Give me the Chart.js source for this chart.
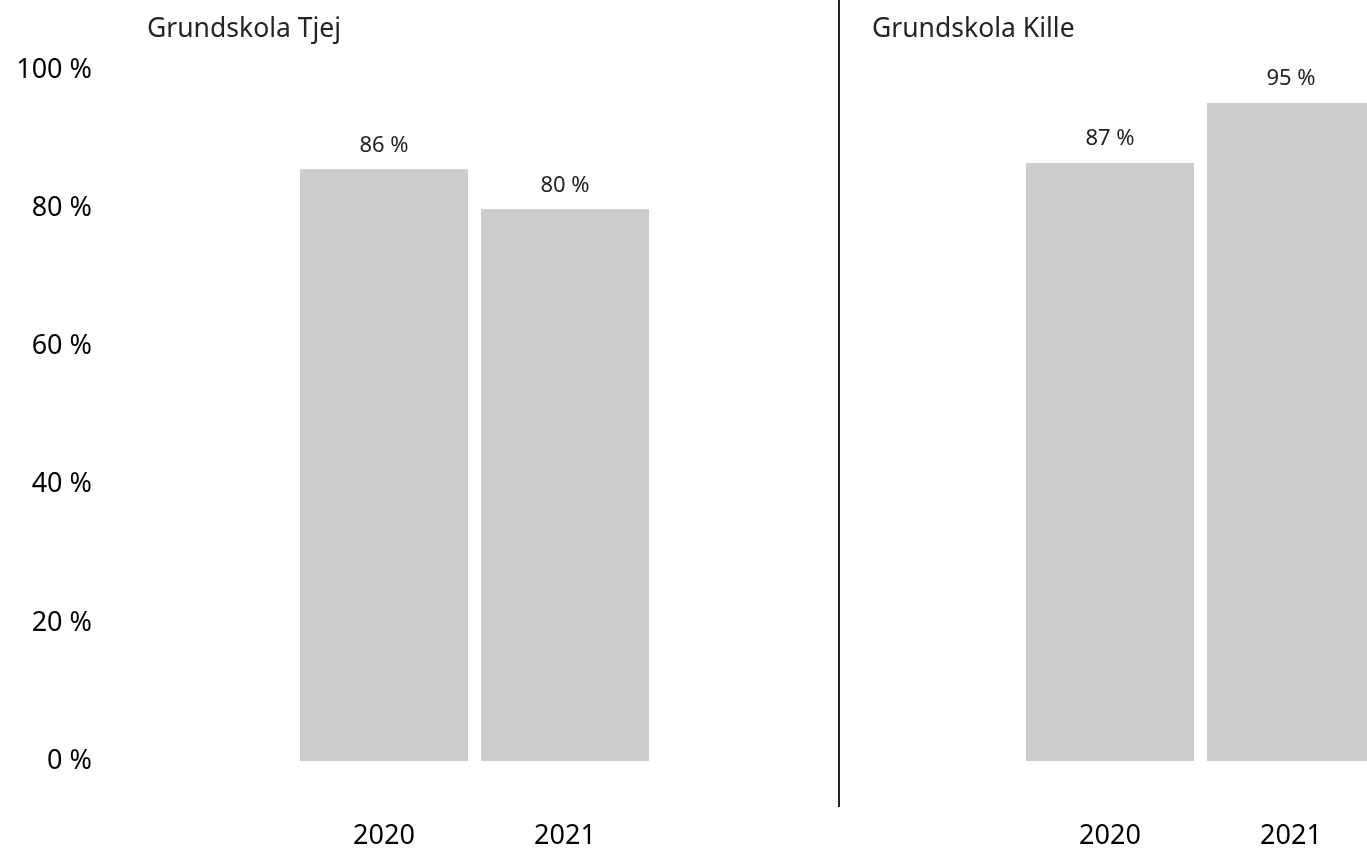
<!DOCTYPE html>
<html lang="sv">
<head>
<meta charset="UTF-8">
<title>Grundskola Tjej / Kille</title>
<script src="https://cdn.jsdelivr.net/npm/chart.js"></script>
<style>
    html, body {
        margin: 0;
        padding: 0;
        background: #fff;
        overflow: hidden;
    }
    .page {
        position: relative;
        width: 1367px;
        height: 850px;
        overflow: hidden;
    }
    .panel {
        position: absolute;
        top: 0;
    }
    .title {
        position: absolute;
        top: 14px;
        font-family: "Noto Sans", sans-serif;
        font-size: 26.5px;
        line-height: 26px;
        color: #252423;
        white-space: nowrap;
    }
    .divider {
        position: absolute;
        left: 838px;
        top: 0;
        width: 2px;
        height: 807px;
        background: #252423;
    }
</style>
</head>
<body>
<div class="page">
    <div class="panel" style="left:0"><canvas id="chartTjej" width="838" height="850"></canvas></div>
    <div class="panel" style="left:838px"><canvas id="chartKille" width="544" height="850"></canvas></div>
    <div class="divider"></div>
    <div class="title" style="left:147px">Grundskola Tjej</div>
    <div class="title" style="left:872px">Grundskola Kille</div>
</div>

<script>
    // data
    const years = ['2020', '2021'];
    const tjejValues = [85.7, 79.9];
    const killeValues = [86.6, 95.3];

    const barColor = '#cccccc';
    const tickFont = { family: 'Noto Sans', size: 27 };

    // labels above bars
    const barLabels = {
        id: 'barLabels',
        afterDatasetsDraw(chart) {
            const ctx = chart.ctx;
            ctx.save();
            ctx.font = '22px "Noto Sans"';
            ctx.fillStyle = '#222';
            ctx.textAlign = 'center';
            ctx.textBaseline = 'middle';
            chart.data.datasets.forEach((ds, i) => {
                chart.getDatasetMeta(i).data.forEach((bar, j) => {
                    ctx.fillText(Math.round(ds.data[j]) + ' %', bar.x, bar.y - 24);
                });
            });
            ctx.restore();
        }
    };

    function makeChart(id, values, showY, padLeft, padRight) {
        const yScale = {
            display: showY,
            min: 0,
            max: 100,
            grid: { display: false, drawTicks: false },
            border: { display: false },
            ticks: {
                stepSize: 20,
                color: '#000',
                font: tickFont,
                padding: 201.5,
                callback: v => v + ' %'
            }
        };
        if (showY) {
            yScale.afterFit = scale => {
                scale.width = 293.5;
                scale.paddingTop = 0;
                scale.paddingBottom = 0;
            };
        }

        return new Chart(document.getElementById(id), {
            type: 'bar',
            data: {
                labels: years,
                datasets: [{
                    data: values,
                    backgroundColor: barColor,
                    borderWidth: 0,
                    categoryPercentage: 1,
                    barPercentage: 0.928
                }]
            },
            options: {
                responsive: false,
                animation: false,
                layout: { padding: { left: padLeft, right: padRight, top: 70.5, bottom: 0 } },
                plugins: {
                    legend: { display: false },
                    tooltip: { enabled: false }
                },
                scales: {
                    x: {
                        grid: { display: false, drawTicks: false },
                        border: { display: false },
                        ticks: { color: '#000', font: tickFont, padding: 59, maxRotation: 0 },
                        afterFit(scale) {
                            scale.height = 89;
                            scale.paddingLeft = 0;
                            scale.paddingRight = 0;
                        }
                    },
                    y: yScale
                }
            },
            plugins: [barLabels]
        });
    }

    makeChart('chartTjej', tjejValues, true, 0, 182.5);
    makeChart('chartKille', killeValues, false, 181.5, 0.5);
</script>
</body>
</html>
